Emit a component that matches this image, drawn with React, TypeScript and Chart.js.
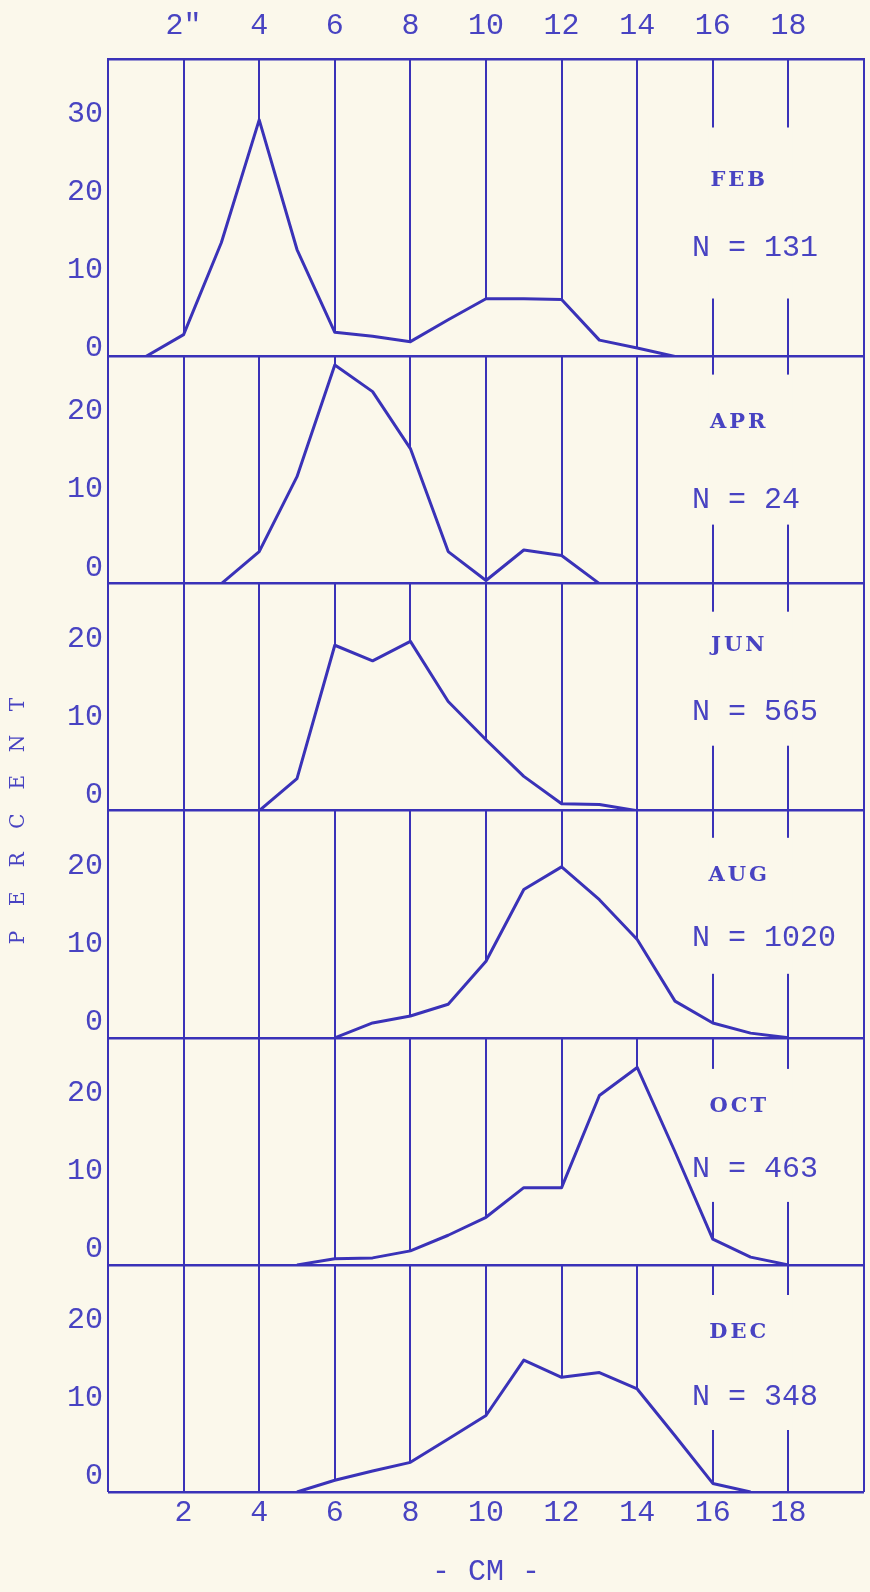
import React, { useEffect, useRef } from 'react';
import { Chart, registerables } from 'chart.js';

Chart.register(...registerables);

// ---------------- data ----------------
const MONTHS = ['FEB', 'APR', 'JUN', 'AUG', 'OCT', 'DEC'];
const SAMPLE_SIZES = ['131', '24', '565', '1020', '463', '348'];

const FEB_CM = [1, 2, 3, 4, 5, 6, 7, 8, 9, 10, 11, 12, 13, 14, 15];
const FEB_PCT = [0, 2.8, 14.6, 30.3, 13.7, 3.1, 2.6, 1.9, 4.7, 7.4, 7.4, 7.3, 2.1, 1.1, 0];

const APR_CM = [3, 4, 5, 6, 7, 8, 9, 10, 11, 12, 13];
const APR_PCT = [0, 4.1, 13.7, 28.0, 24.6, 17.3, 4.1, 0.4, 4.3, 3.6, 0];

const JUN_CM = [4, 5, 6, 7, 8, 9, 10, 11, 12, 13, 14];
const JUN_PCT = [0, 4.1, 21.2, 19.2, 21.7, 14.0, 9.1, 4.4, 0.9, 0.8, 0];

const AUG_CM = [6, 7, 8, 9, 10, 11, 12, 13, 14, 15, 16, 17, 18];
const AUG_PCT = [0, 1.9, 2.8, 4.3, 9.8, 19.0, 21.9, 17.7, 12.6, 4.7, 1.9, 0.6, 0];

const OCT_CM = [5, 6, 7, 8, 9, 10, 11, 12, 13, 14, 15, 16, 17, 18];
const OCT_PCT = [0, 0.8, 0.9, 1.8, 3.8, 6.1, 9.9, 9.9, 21.7, 25.3, 14.5, 3.3, 1.0, 0];

const DEC_CM = [5, 6, 7, 8, 9, 10, 11, 12, 13, 14, 15, 16, 17];
const DEC_PCT = [0, 1.5, 2.7, 3.8, 6.8, 9.8, 16.9, 14.7, 15.3, 13.2, 7.2, 1.1, 0];

const GRID_CM = [0, 2, 4, 6, 8, 10, 12, 14, 16, 18, 20];
const TICK_CM = [2, 4, 6, 8, 10, 12, 14, 16, 18];
const TOP_TICK_LABELS = ['2"', '4', '6', '8', '10', '12', '14', '16', '18'];
const BOTTOM_TICK_LABELS = ['2', '4', '6', '8', '10', '12', '14', '16', '18'];
const FEB_Y_TICKS = [0, 10, 20, 30];
const Y_TICKS = [0, 10, 20];
const Y_TITLE = 'PERCENT';
const X_TITLE = '- CM -';

// ---------------- style / layout ----------------
const W = 870;
const H = 1592;
const BG = '#fbf8eb';
const INK = '#3a32b8';
const TEXT = '#4843c2';
const MONO = '"Liberation Mono", "DejaVu Sans Mono", monospace';
const SERIF = '"DejaVu Serif", "Liberation Serif", serif';
const MONTH_LABEL_CM = 16.7;
const N_LABEL_CM = 15.45;
const GAP_LINES_CM = [16, 18];

const PANELS = [
  { id: 'yFEB', month: MONTHS[0], n: SAMPLE_SIZES[0], cm: FEB_CM, pct: FEB_PCT, ticks: FEB_Y_TICKS, max: 38.1, weight: 1.31, labelOffset: -8, monthUp: 176, nUp: 108, gapAbove: 53, gapBelow: 50 },
  { id: 'yAPR', month: MONTHS[1], n: SAMPLE_SIZES[1], cm: APR_CM, pct: APR_PCT, ticks: Y_TICKS, max: 29.1, weight: 1, labelOffset: -16, monthUp: 161, nUp: 84, gapAbove: 48, gapBelow: 25 },
  { id: 'yJUN', month: MONTHS[2], n: SAMPLE_SIZES[2], cm: JUN_CM, pct: JUN_PCT, ticks: Y_TICKS, max: 29.1, weight: 1, labelOffset: -16, monthUp: 165, nUp: 99, gapAbove: 34, gapBelow: 34 },
  { id: 'yAUG', month: MONTHS[3], n: SAMPLE_SIZES[3], cm: AUG_CM, pct: AUG_PCT, ticks: Y_TICKS, max: 29.1, weight: 1, labelOffset: -16, monthUp: 162, nUp: 100, gapAbove: 38, gapBelow: 36 },
  { id: 'yOCT', month: MONTHS[4], n: SAMPLE_SIZES[4], cm: OCT_CM, pct: OCT_PCT, ticks: Y_TICKS, max: 29.1, weight: 1, labelOffset: -16, monthUp: 158, nUp: 96, gapAbove: 38, gapBelow: 33 },
  { id: 'yDEC', month: MONTHS[5], n: SAMPLE_SIZES[5], cm: DEC_CM, pct: DEC_PCT, ticks: Y_TICKS, max: 29.1, weight: 1, labelOffset: -16, monthUp: 159, nUp: 95, gapAbove: 38, gapBelow: 33 },
];

const tickFont = { family: MONO, size: 30, lineHeight: 1 };

const paperPlugin = {
  id: 'paper',
  beforeDraw(chart: any) {
    const { ctx, width, height } = chart;
    ctx.save();
    ctx.fillStyle = BG;
    ctx.fillRect(0, 0, width, height);
    ctx.restore();
  },
  beforeDatasetsDraw(chart: any) {
    const { ctx } = chart;
    const xs = chart.scales.x;
    ctx.save();
    ctx.fillStyle = BG;
    PANELS.forEach((p) => {
      const base = chart.scales[p.id].getPixelForValue(0);
      const top = base - p.monthUp - p.gapAbove;
      const bottom = base - p.nUp + p.gapBelow;
      GAP_LINES_CM.forEach((v) => {
        const px = xs.getPixelForValue(v);
        ctx.fillRect(px - 4, top, 8, bottom - top);
      });
    });
    ctx.restore();
  },
  afterDatasetsDraw(chart: any) {
    const { ctx } = chart;
    const xs = chart.scales.x;
    ctx.save();
    ctx.fillStyle = TEXT;
    ctx.textBaseline = 'middle';
    PANELS.forEach((p) => {
      const base = chart.scales[p.id].getPixelForValue(0);
      ctx.letterSpacing = '3px';
      ctx.font = `bold 21px ${SERIF}`;
      ctx.textAlign = 'center';
      ctx.fillText(p.month, xs.getPixelForValue(MONTH_LABEL_CM), base - p.monthUp);
      ctx.letterSpacing = '0px';
      ctx.font = `30px ${MONO}`;
      ctx.textAlign = 'left';
      ctx.fillText(`N = ${p.n}`, xs.getPixelForValue(N_LABEL_CM), base - p.nUp);
    });
    ctx.restore();
  },
  afterDraw(chart: any) {
    const { ctx } = chart;
    ctx.save();
    ctx.fillStyle = TEXT;
    ctx.font = `20px ${SERIF}`;
    ctx.textAlign = 'center';
    ctx.textBaseline = 'middle';
    const letters = Y_TITLE.split('');
    const cx = 19;
    const cy = 821;
    const step = 38.8;
    letters.forEach((ch, i) => {
      const y = cy + ((letters.length - 1) / 2 - i) * step;
      ctx.save();
      ctx.translate(cx, y);
      ctx.rotate(-Math.PI / 2);
      ctx.fillText(ch, 0, 0);
      ctx.restore();
    });
    ctx.restore();
  },
};

export default function App() {
  const canvasRef = useRef<HTMLCanvasElement | null>(null);

  useEffect(() => {
    document.body.style.margin = '0';
    document.body.style.background = BG;
    const canvas = canvasRef.current;
    if (!canvas) return;

    const scales: any = {
      x: {
        type: 'linear',
        position: 'bottom',
        min: 0,
        max: 20,
        afterBuildTicks: (s: any) => {
          s.ticks = GRID_CM.map((v) => ({ value: v }));
        },
        afterFit: (s: any) => {
          s.height = 100;
        },
        grid: { color: INK, lineWidth: 2, drawTicks: false, z: 0 },
        border: { display: false },
        ticks: {
          autoSkip: false,
          maxRotation: 0,
          padding: 6,
          color: TEXT,
          font: tickFont,
          callback: (v: any) => {
            const i = TICK_CM.indexOf(Number(v));
            return i >= 0 ? BOTTOM_TICK_LABELS[i] : '';
          },
        },
        title: {
          display: true,
          text: X_TITLE,
          color: TEXT,
          font: tickFont,
          padding: { top: 0, bottom: 5 },
        },
      },
      x2: {
        type: 'linear',
        position: 'top',
        min: 0,
        max: 20,
        afterBuildTicks: (s: any) => {
          s.ticks = TICK_CM.map((v) => ({ value: v }));
        },
        afterFit: (s: any) => {
          s.height = 59;
        },
        grid: { display: false, drawTicks: false },
        border: { display: true, color: INK, width: 2.5, z: 1 },
        ticks: {
          autoSkip: false,
          maxRotation: 0,
          padding: 18,
          color: TEXT,
          font: tickFont,
          callback: (v: any) => {
            const i = TICK_CM.indexOf(Number(v));
            return i >= 0 ? TOP_TICK_LABELS[i] : '';
          },
        },
      },
    };

    PANELS.forEach((p, k) => {
      scales[p.id] = {
        type: 'linear',
        position: 'left',
        stack: 'months',
        stackWeight: p.weight,
        weight: PANELS.length - k,
        min: 0,
        max: p.max,
        afterBuildTicks: (s: any) => {
          s.ticks = p.ticks.map((v) => ({ value: v }));
        },
        afterFit: (s: any) => {
          s.width = 108;
        },
        grid: {
          color: (c: any) => (c.tick && c.tick.value === 0 ? INK : 'rgba(0,0,0,0)'),
          lineWidth: 2.5,
          drawTicks: false,
          z: 1,
        },
        border: { display: false },
        ticks: {
          padding: 5,
          labelOffset: p.labelOffset,
          color: TEXT,
          font: tickFont,
        },
      };
    });

    const chart = new Chart(canvas, {
      type: 'line',
      data: {
        datasets: PANELS.map((p) => ({
          label: p.month,
          data: p.cm.map((c, i) => ({ x: c, y: p.pct[i] })),
          xAxisID: 'x',
          yAxisID: p.id,
          borderColor: INK,
          borderWidth: 3,
          pointRadius: 0,
          tension: 0,
          fill: 'origin',
          backgroundColor: BG,
          borderJoinStyle: 'round',
        })),
      },
      options: {
        responsive: false,
        animation: false,
        devicePixelRatio: 1,
        layout: { padding: { left: 0, right: 2, top: 0, bottom: 0 } },
        plugins: {
          legend: { display: false },
          tooltip: { enabled: false },
        },
        scales,
      } as any,
      plugins: [paperPlugin],
    });

    return () => {
      chart.destroy();
    };
  }, []);

  return (
    <canvas
      ref={canvasRef}
      width={W}
      height={H}
      style={{ display: 'block', width: W, height: H, background: BG }}
    />
  );
}
